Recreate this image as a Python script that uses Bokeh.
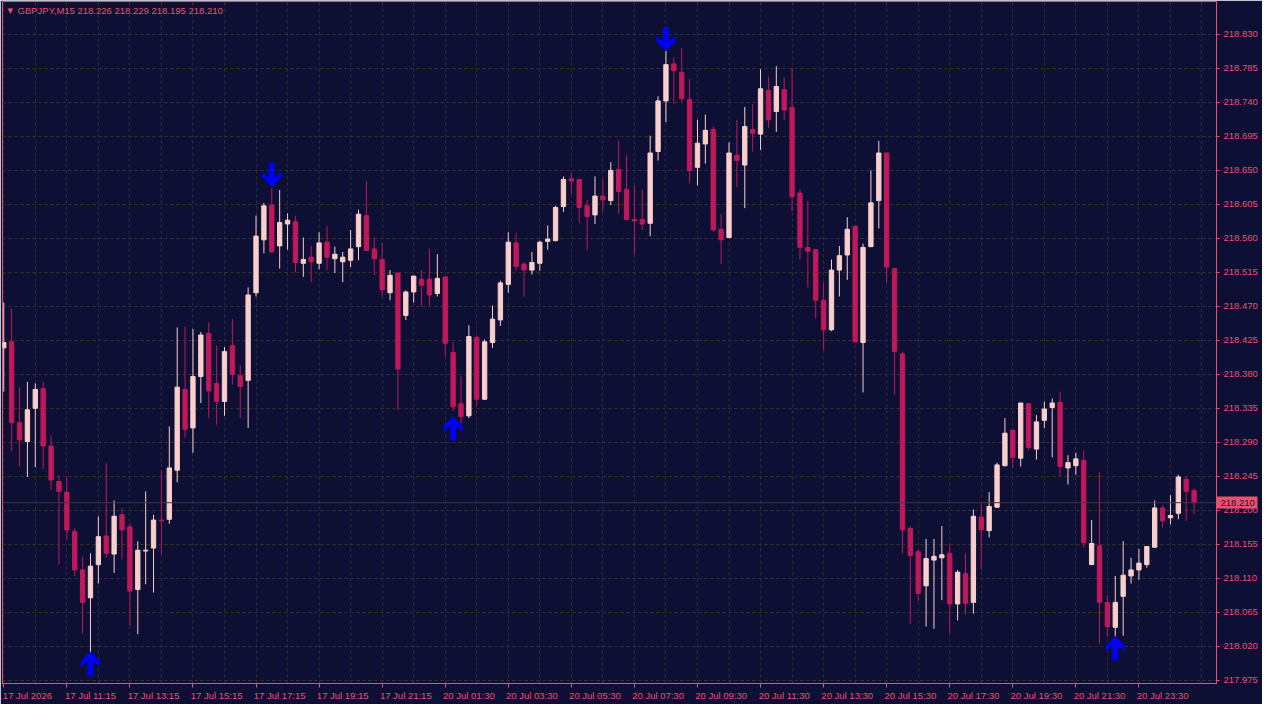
import numpy as np
from bokeh.plotting import figure
from bokeh.models import FixedTicker, Label, Span, Range1d, ColumnDataSource, NumeralTickFormatter, LinearAxis
from bokeh.embed import file_html
from bokeh.resources import INLINE

# ---------------- data ----------------
symbol = "GBPJPY,M15"
opens = [218.415, 218.423, 218.316, 218.291, 218.335, 218.361, 218.285, 218.238, 218.224, 218.172,
         218.121, 218.084, 218.128, 218.166, 218.142, 218.194, 218.178, 218.095, 218.146, 218.150,
         218.187, 218.188, 218.253, 218.360, 218.309, 218.377, 218.434, 218.368, 218.344, 218.418,
         218.378, 218.372, 218.488, 218.558, 218.604, 218.550, 218.579, 218.582, 218.527, 218.535,
         218.527, 218.555, 218.533, 218.529, 218.531, 218.549, 218.590, 218.546, 218.532, 218.488,
         218.514, 218.458, 218.489, 218.506, 218.506, 218.487, 218.509, 218.409, 218.341, 218.325,
         218.429, 218.347, 218.422, 218.452, 218.499, 218.554, 218.526, 218.518, 218.527, 218.556,
         218.557, 218.602, 218.639, 218.638, 218.603, 218.591, 218.616, 218.610, 218.651, 218.625,
         218.585, 218.585, 218.580, 218.675, 218.742, 218.791, 218.780, 218.744, 218.654, 218.685,
         218.704, 218.572, 218.561, 218.670, 218.657, 218.704, 218.698, 218.756, 218.728, 218.757,
         218.733, 218.620, 218.548, 218.545, 218.478, 218.439, 218.518, 218.538, 218.576, 218.422,
         218.549, 218.610, 218.673, 218.520, 218.407, 218.176, 218.145, 218.100, 218.134, 218.137,
         218.143, 218.076, 218.116, 218.078, 218.191, 218.173, 218.204, 218.259, 218.306, 218.269,
         218.341, 218.281, 218.319, 218.336, 218.343, 218.256, 218.259, 218.266, 218.128, 218.153,
         218.078, 218.045, 218.086, 218.113, 218.121, 218.128, 218.151, 218.203, 218.190, 218.196,
         218.241, 218.226]
highs = [218.475, 218.467, 218.363, 218.370, 218.368, 218.370, 218.299, 218.246, 218.245, 218.176,
         218.139, 218.143, 218.192, 218.262, 218.213, 218.203, 218.183, 218.159, 218.225, 218.194,
         218.253, 218.311, 218.442, 218.443, 218.440, 218.436, 218.449, 218.418, 218.416, 218.453,
         218.392, 218.495, 218.590, 218.607, 218.627, 218.624, 218.593, 218.590, 218.561, 218.550,
         218.568, 218.577, 218.549, 218.542, 218.571, 218.598, 218.636, 218.561, 218.554, 218.518,
         218.514, 218.491, 218.510, 218.518, 218.546, 218.539, 218.509, 218.423, 218.377, 218.445,
         218.431, 218.426, 218.471, 218.504, 218.568, 218.567, 218.529, 218.542, 218.557, 218.577,
         218.603, 218.642, 218.647, 218.638, 218.611, 218.642, 218.639, 218.661, 218.690, 218.670,
         218.630, 218.625, 218.696, 218.748, 218.808, 218.800, 218.812, 218.771, 218.717, 218.724,
         218.708, 218.592, 218.687, 218.717, 218.734, 218.738, 218.784, 218.774, 218.788, 218.773,
         218.786, 218.625, 218.610, 218.545, 218.502, 218.532, 218.550, 218.588, 218.576, 218.553,
         218.650, 218.689, 218.673, 218.520, 218.410, 218.179, 218.148, 218.162, 218.162, 218.179,
         218.155, 218.121, 218.143, 218.201, 218.209, 218.224, 218.263, 218.322, 218.306, 218.342,
         218.341, 218.326, 218.344, 218.348, 218.357, 218.273, 218.276, 218.279, 218.187, 218.250,
         218.087, 218.113, 218.159, 218.137, 218.149, 218.152, 218.213, 218.207, 218.220, 218.247,
         218.244, 218.229]
lows = [218.357, 218.278, 218.258, 218.244, 218.257, 218.255, 218.227, 218.128, 218.161, 218.113,
        218.037, 218.012, 218.103, 218.137, 218.117, 218.135, 218.047, 218.036, 218.102, 218.091,
        218.142, 218.182, 218.237, 218.296, 218.276, 218.342, 218.322, 218.313, 218.325, 218.366,
        218.322, 218.309, 218.483, 218.540, 218.541, 218.520, 218.545, 218.515, 218.509, 218.502,
        218.519, 218.518, 218.514, 218.502, 218.522, 218.531, 218.543, 218.511, 218.483, 218.478,
        218.333, 218.452, 218.475, 218.470, 218.471, 218.483, 218.404, 218.332, 218.315, 218.322,
        218.338, 218.346, 218.415, 218.444, 218.488, 218.517, 218.483, 218.512, 218.517, 218.545,
        218.556, 218.595, 218.619, 218.580, 218.545, 218.579, 218.595, 218.604, 218.592, 218.584,
        218.539, 218.571, 218.563, 218.663, 218.714, 218.738, 218.741, 218.633, 218.630, 218.659,
        218.569, 218.526, 218.561, 218.628, 218.600, 218.675, 218.677, 218.706, 218.701, 218.717,
        218.596, 218.532, 218.495, 218.454, 218.412, 218.437, 218.483, 218.505, 218.422, 218.356,
        218.549, 218.573, 218.501, 218.353, 218.143, 218.050, 218.080, 218.046, 218.043, 218.081,
        218.038, 218.054, 218.062, 218.063, 218.122, 218.164, 218.203, 218.258, 218.256, 218.258,
        218.279, 218.267, 218.309, 218.270, 218.245, 218.234, 218.247, 218.151, 218.128, 218.023,
        218.032, 218.033, 218.034, 218.103, 218.108, 218.124, 218.151, 218.177, 218.181, 218.188,
        218.186, 218.195]
closes = [218.422, 218.316, 218.293, 218.333, 218.360, 218.285, 218.240, 218.225, 218.174, 218.121,
          218.078, 218.126, 218.165, 218.143, 218.192, 218.174, 218.093, 218.147, 218.147, 218.187,
          218.186, 218.256, 218.363, 218.307, 218.377, 218.432, 218.358, 218.344, 218.410, 218.380,
          218.364, 218.485, 218.563, 218.603, 218.542, 218.581, 218.584, 218.528, 218.532, 218.529,
          218.554, 218.535, 218.539, 218.535, 218.546, 218.592, 218.544, 218.533, 218.492, 218.511,
          218.387, 218.489, 218.510, 218.498, 218.485, 218.507, 218.421, 218.337, 218.324, 218.430,
          218.347, 218.423, 218.453, 218.501, 218.555, 218.523, 218.518, 218.528, 218.555, 218.559,
          218.601, 218.638, 218.636, 218.601, 218.589, 218.616, 218.611, 218.650, 218.622, 218.585,
          218.583, 218.579, 218.673, 218.742, 218.790, 218.782, 218.745, 218.650, 218.686, 218.703,
          218.571, 218.558, 218.673, 218.663, 218.708, 218.699, 218.758, 218.717, 218.761, 218.730,
          218.615, 218.548, 218.543, 218.478, 218.439, 218.518, 218.537, 218.572, 218.423, 218.548,
          218.607, 218.673, 218.522, 218.410, 218.174, 218.140, 218.090, 218.136, 218.139, 218.141,
          218.076, 218.118, 218.077, 218.192, 218.174, 218.205, 218.260, 218.302, 218.270, 218.342,
          218.283, 218.317, 218.334, 218.342, 218.258, 218.263, 218.268, 218.157, 218.156, 218.078,
          218.046, 218.078, 218.114, 218.121, 218.130, 218.152, 218.203, 218.186, 218.193, 218.244,
          218.225, 218.210]

x_tick_index = [0, 8, 16, 24, 32, 40, 48, 56, 64, 72, 80, 88, 96, 104, 112, 120, 128, 136, 144]
x_tick_labels = ["17 Jul 2026", "17 Jul 11:15", "17 Jul 13:15", "17 Jul 15:15", "17 Jul 17:15",
                 "17 Jul 19:15", "17 Jul 21:15", "20 Jul 01:30", "20 Jul 03:30", "20 Jul 05:30",
                 "20 Jul 07:30", "20 Jul 09:30", "20 Jul 11:30", "20 Jul 13:30", "20 Jul 15:30",
                 "20 Jul 17:30", "20 Jul 19:30", "20 Jul 21:30", "20 Jul 23:30"]
y_ticks = [217.975, 218.020, 218.065, 218.110, 218.155, 218.200, 218.245, 218.290, 218.335, 218.380,
           218.425, 218.470, 218.515, 218.560, 218.605, 218.650, 218.695, 218.740, 218.785, 218.830]

up_signal_index = [11, 57, 141]
up_signal_price = [218.013, 218.324, 218.033]
down_signal_index = [34, 84]
down_signal_price = [218.628, 218.808]

# ---------------- style ----------------
BG = "#0D0F35"
FG = "#EE4F6E"
BULL = "#F9CFCC"
BEAR = "#C0185A"
GRID = "#3a3421"
FONT = "Liberation Sans"
FS = "9.5px"

FRAME_W, FRAME_H = 1214, 682
X0, X1 = -0.16, 153.84
Y0, Y1 = 217.9706, 218.8736
bar_px = FRAME_W / (X1 - X0)
unit_px = FRAME_H / (Y1 - Y0)

p = figure(frame_width=FRAME_W, frame_height=FRAME_H,
           x_range=Range1d(X0, X1), y_range=Range1d(Y0, Y1),
           y_axis_location="right", toolbar_location=None, output_backend="svg",
           min_border_left=2, min_border_top=1, min_border_right=46, min_border_bottom=21,
           background_fill_color=BG, border_fill_color=BG)
p.outline_line_color = FG
p.outline_line_width = 1

# grids
p.xgrid.ticker = FixedTicker(ticks=list(range(0, 153, 4)))
p.xgrid.grid_line_color = "#302f35"
p.xgrid.grid_line_dash = "3 3"
p.ygrid.ticker = FixedTicker(ticks=y_ticks)
p.ygrid.grid_line_color = GRID
p.ygrid.grid_line_dash = "3 3"

last_close = closes[-1]

# inner right axis: border line, small ticks, and the last-price tag
tag = p.yaxis[0]
tag.ticker = FixedTicker(ticks=[last_close], minor_ticks=y_ticks)
tag.formatter = NumeralTickFormatter(format="0.000")
tag.axis_line_color = FG
tag.minor_tick_line_color = FG
tag.minor_tick_out = 3
tag.minor_tick_in = 0
tag.major_tick_line_color = FG
tag.major_tick_line_width = 12
tag.major_tick_out = 41
tag.major_tick_in = 0
tag.major_label_text_color = "#1a1030"
tag.major_label_text_font = FONT
tag.major_label_text_font_size = FS
tag.major_label_standoff = -37

# outer right axis: the price labels, pulled back next to the frame
price_axis = LinearAxis(ticker=FixedTicker(ticks=y_ticks), formatter=NumeralTickFormatter(format="0.000"),
                        axis_line_color=None, major_tick_line_color=None, minor_tick_line_color=None,
                        major_tick_out=0, major_tick_in=0,
                        major_label_text_color=FG, major_label_text_font=FONT,
                        major_label_text_font_size=FS, major_label_standoff=-34)
p.add_layout(price_axis, "right")

# x axis: labels start at tick (left-aligned look)
shift = 3
p.xaxis.ticker = FixedTicker(ticks=[i + shift for i in x_tick_index], minor_ticks=x_tick_index)
p.xaxis.major_label_overrides = {i + shift: lab for i, lab in zip(x_tick_index, x_tick_labels)}
p.xaxis.axis_line_color = FG
p.xaxis.major_tick_line_color = None
p.xaxis.major_tick_out = 0
p.xaxis.minor_tick_line_color = FG
p.xaxis.minor_tick_out = 4
p.xaxis.minor_tick_in = 0
p.xaxis.major_label_text_color = FG
p.xaxis.major_label_text_font = FONT
p.xaxis.major_label_text_font_size = FS
p.xaxis.major_label_standoff = 2

# current price line
p.add_layout(Span(location=last_close, dimension="width", line_color="#3f3b36", line_width=1))

# candles
idx = np.arange(len(opens))
o = np.array(opens); h = np.array(highs); l = np.array(lows); c = np.array(closes)
up = c >= o
for mask, col in ((up, BULL), (~up, BEAR)):
    src = ColumnDataSource(dict(x=idx[mask], o=o[mask], h=h[mask], l=l[mask], c=c[mask],
                                top=np.maximum(o, c)[mask], bot=np.minimum(o, c)[mask]))
    p.segment(x0="x", y0="l", x1="x", y1="h", source=src, line_color=col, line_width=1)
    p.vbar(x="x", width=0.55, top="top", bottom="bot", source=src,
           fill_color=col, line_color=col, line_width=1)

# signal arrows (shape in pixels relative to the tip)
shape = [(0, 0), (9.5, 9.5), (9.5, 15.5), (3, 9), (3, 24), (-3, 24), (-3, 9), (-9.5, 15.5), (-9.5, 9.5)]
xs, ys = [], []
for i, pr in zip(up_signal_index, up_signal_price):
    xs.append([i + dx / bar_px for dx, dy in shape])
    ys.append([pr - dy / unit_px for dx, dy in shape])
for i, pr in zip(down_signal_index, down_signal_price):
    xs.append([i + dx / bar_px for dx, dy in shape])
    ys.append([pr + dy / unit_px for dx, dy in shape])
p.patches(xs, ys, fill_color="#0000FF", line_color=None)

# header
p.add_layout(Label(x=5, y=FRAME_H - 9, x_units="screen", y_units="screen", text="\u25BC",
                   text_font="DejaVu Sans", text_font_size="7px", text_color=FG,
                   text_baseline="middle"))
p.add_layout(Label(x=15, y=FRAME_H - 9, x_units="screen", y_units="screen",
                   text=f"{symbol}  {opens[-1]:.3f} {highs[-1]:.3f} {lows[-1]:.3f} {closes[-1]:.3f}",
                   text_font=FONT, text_font_size=FS, text_color=FG, text_baseline="middle"))

open("out.html", "w").write(file_html(p, INLINE))
